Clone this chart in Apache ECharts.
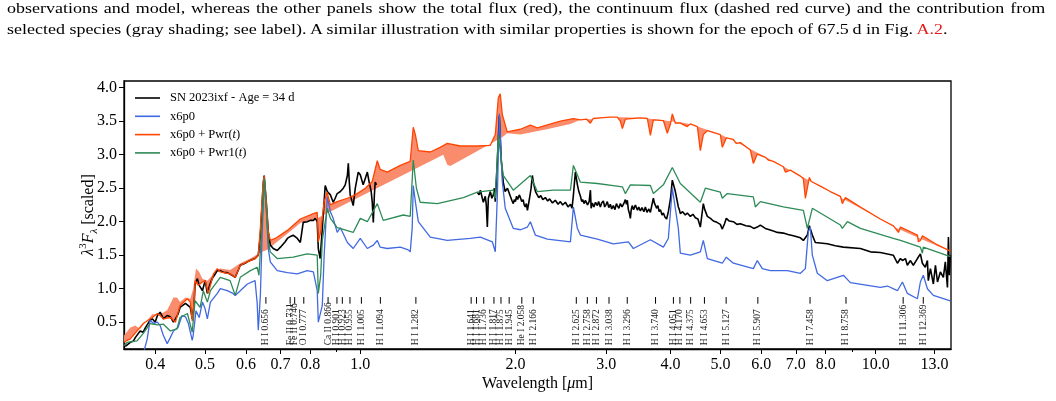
<!DOCTYPE html>
<html>
<head>
<meta charset="utf-8">
<script src="https://cdn.jsdelivr.net/npm/echarts@6.0.0/dist/echarts.min.js"></script>
<style>
  body { margin: 0; background: #fff; }
  .wrap { position: relative; width: 1056px; height: 401px; overflow: hidden; }
  #main { position: absolute; left: 0; top: 0; width: 1056px; height: 401px; }
  .cap { position: absolute; left: 7px; font-family: "Liberation Serif", serif; font-size: 15.5px; line-height: 15.5px;
         white-space: nowrap; color: #000; transform: scaleX(1.16); transform-origin: 0 0; }
  .cap1 { top: 0px; width: 895px; text-align: justify; text-align-last: justify; white-space: normal; }
  .cap2 { top: 21px; }
  .cap a { color: #e41a1c; text-decoration: none; }
</style>
</head>
<body>
<div class="wrap">
  <div id="main"></div>
  <div class="cap cap1">observations and model, whereas the other panels show the total flux (red), the continuum flux (dashed red curve) and the contribution from</div>
  <div class="cap cap2">selected species (gray shading; see label). A similar illustration with similar properties is shown for the epoch of 67.5&#8201;d in Fig. <a>A.2</a>.</div>
</div>
<script>
// spectra: [wavelength in micron, lambda^3 F_lambda scaled]
const obsFlux = [
  [0.350,0.14],[0.353,0.15],[0.358,0.20],[0.363,0.22],[0.366,0.27],[0.369,0.25],[0.374,0.37],[0.379,0.35],
  [0.383,0.42],[0.386,0.40],[0.391,0.53],[0.395,0.55],[0.400,0.50],[0.404,0.60],[0.409,0.65],[0.415,0.55],
  [0.418,0.53],[0.422,0.60],[0.428,0.58],[0.434,0.50],[0.438,0.55],[0.443,0.62],[0.447,0.72],[0.451,0.70],
  [0.458,0.78],[0.462,0.80],[0.468,0.72],[0.472,0.55],[0.476,0.75],[0.478,1.07],[0.483,1.15],[0.487,1.05],
  [0.494,0.97],[0.500,1.12],[0.505,0.93],[0.510,1.05],[0.516,1.15],[0.523,1.22],[0.528,1.27],[0.535,1.27],
  [0.545,1.24],[0.552,1.24],[0.564,1.20],[0.572,1.17],[0.580,1.28],[0.585,1.35],[0.598,1.38],[0.604,1.40],
  [0.615,1.43],[0.625,1.45],[0.634,1.50],[0.640,1.80],[0.648,2.55],[0.651,2.69],[0.657,2.30],[0.663,1.85],
  [0.669,1.65],[0.678,1.60],[0.690,1.57],[0.700,1.62],[0.715,1.70],[0.722,1.75],[0.732,1.78],[0.741,1.80],
  [0.755,1.75],[0.765,1.69],[0.775,1.99],[0.789,2.00],[0.800,2.02],[0.811,2.02],[0.818,2.05],[0.825,2.00],
  [0.829,1.60],[0.836,1.45],[0.844,1.90],[0.855,2.54],[0.863,2.45],[0.875,2.40],[0.886,2.29],[0.894,2.35],
  [0.902,2.42],[0.915,2.45],[0.927,2.50],[0.935,2.55],[0.944,2.69],[0.948,2.87],[0.952,2.60],[0.956,2.40],
  [0.969,2.24],[0.978,2.50],[0.991,2.74],[1.000,2.70],[1.013,2.55],[1.023,2.65],[1.032,2.74],[1.040,2.60],
  [1.050,2.45],[1.055,2.29],[1.060,1.99],[1.065,2.40],[1.069,2.59],[1.075,2.55],[1.300,null],
  [1.687,2.44],[1.700,2.40],[1.710,2.47],[1.725,2.35],[1.733,2.29],[1.748,2.38],[1.756,2.25],[1.764,1.92],
  [1.772,2.35],[1.788,2.45],[1.800,2.35],[1.812,2.40],[1.820,2.50],[1.828,2.30],[1.845,2.90],[1.861,3.58],
  [1.878,2.90],[1.894,2.59],[1.910,2.45],[1.930,2.50],[1.955,2.38],[1.968,2.32],[1.981,2.27],[1.990,2.33],
  [2.000,2.30],[2.010,2.38],[2.020,2.33],[2.035,2.40],[2.045,2.36],[2.057,2.30],[2.070,2.33],[2.080,2.25],
  [2.090,2.22],[2.100,2.27],[2.110,2.17],[2.120,2.26],[2.130,2.35],[2.145,2.50],[2.157,2.69],[2.168,2.58],
  [2.180,2.50],[2.190,2.44],[2.205,2.42],[2.220,2.36],[2.240,2.39],[2.260,2.33],[2.286,2.36],[2.310,2.31],
  [2.330,2.34],[2.360,2.28],[2.390,2.32],[2.420,2.26],[2.445,2.30],[2.470,2.25],[2.500,2.29],[2.530,2.22],
  [2.557,2.26],[2.575,2.20],[2.590,2.38],[2.614,2.74],[2.638,2.55],[2.655,2.45],[2.674,2.38],[2.690,2.30],
  [2.700,2.33],[2.720,2.27],[2.734,2.32],[2.760,2.25],[2.780,2.30],[2.796,2.47],[2.805,2.20],[2.820,2.28],
  [2.840,2.22],[2.860,2.29],[2.884,2.24],[2.900,2.30],[2.923,2.22],[2.940,2.28],[2.962,2.31],[2.980,2.22],
  [3.000,2.26],[3.015,2.30],[3.035,2.21],[3.056,2.26],[3.075,2.19],[3.097,2.24],[3.120,2.18],[3.140,2.27],
  [3.153,2.24],[3.175,2.20],[3.196,2.27],[3.220,2.22],[3.250,2.28],[3.268,2.33],[3.285,2.26],[3.297,2.32],
  [3.312,2.18],[3.330,2.12],[3.342,2.05],[3.355,2.18],[3.370,2.24],[3.390,2.18],[3.418,2.25],[3.450,2.17],
  [3.470,2.22],[3.495,2.16],[3.520,2.21],[3.550,2.15],[3.574,2.22],[3.600,2.14],[3.630,2.19],[3.655,2.14],
  [3.680,2.25],[3.704,2.35],[3.720,2.28],[3.737,2.30],[3.760,2.20],[3.780,2.24],[3.800,2.15],[3.822,2.18],
  [3.850,2.10],[3.873,2.13],[3.900,2.07],[3.930,2.04],[3.960,2.15],[4.000,2.35],[4.031,2.62],[4.086,2.45],
  [4.110,2.35],[4.141,2.22],[4.160,2.18],[4.178,2.12],[4.220,2.15],[4.272,2.10],[4.310,2.13],[4.369,2.08],
  [4.420,2.11],[4.468,2.06],[4.520,2.04],[4.569,1.92],[4.600,2.10],[4.630,2.27],[4.660,2.18],[4.714,2.08],
  [4.780,2.05],[4.842,2.01],[4.920,1.99],[4.995,1.96],[5.040,1.89],[5.090,1.97],[5.131,2.05],[5.200,2.01],
  [5.295,2.00],[5.380,1.96],[5.463,1.97],[5.600,1.94],[5.712,1.93],[5.800,1.90],[5.893,1.92],[5.973,1.95],
  [6.108,1.90],[6.220,1.88],[6.330,1.86],[6.445,1.84],[6.620,1.83],[6.760,1.81],[6.922,1.79],[7.143,1.76],
  [7.239,1.72],[7.369,1.80],[7.435,1.94],[7.535,1.80],[7.636,1.69],[8.056,1.67],[8.349,1.64],[8.656,1.62],
  [9.340,1.60],[9.766,1.55],[10.21,1.54],[10.82,1.50],[11.02,1.38],[11.17,1.45],[11.27,1.42],[11.42,1.45],
  [11.52,1.35],[11.68,1.42],[11.83,1.35],[12.05,1.45],[12.21,1.52],[12.32,1.38],[12.48,1.32],[12.60,1.42],
  [12.65,1.12],[12.77,1.30],[12.94,1.07],[13.06,1.35],[13.18,1.10],[13.35,1.25],[13.53,1.17],[13.65,1.40],
  [13.78,1.02],[13.84,1.77],[13.90,1.20],[13.96,1.50]
];

const x6p0 = [
  [0.350,0.00],[0.380,0.05],[0.386,0.25],[0.391,0.53],[0.397,0.48],[0.404,0.50],[0.409,0.45],[0.415,0.30],
  [0.422,0.18],[0.428,0.27],[0.434,0.37],[0.443,0.42],[0.451,0.60],[0.458,0.58],[0.464,0.48],[0.472,0.23],
  [0.474,0.30],[0.480,0.67],[0.487,0.57],[0.494,0.80],[0.500,0.70],[0.505,0.55],[0.512,0.80],[0.528,0.93],
  [0.535,1.00],[0.552,0.97],[0.566,0.93],[0.572,0.90],[0.585,0.97],[0.604,1.07],[0.625,1.12],[0.631,0.78],
  [0.634,0.38],[0.640,0.90],[0.645,1.80],[0.651,2.62],[0.657,2.20],[0.663,1.60],[0.669,1.40],[0.690,1.27],
  [0.722,1.24],[0.755,1.22],[0.789,1.27],[0.811,1.25],[0.825,0.97],[0.829,0.50],[0.844,0.75],[0.851,1.50],
  [0.863,2.37],[0.875,2.15],[0.886,2.05],[0.902,1.84],[0.915,1.91],[0.944,1.69],[0.969,1.60],[1.000,1.75],
  [1.032,1.60],[1.060,1.65],[1.079,1.72],[1.093,1.62],[1.128,1.60],[1.196,1.62],[1.239,1.58],[1.250,1.55],
  [1.261,1.90],[1.267,2.54],[1.279,2.30],[1.296,2.00],[1.367,1.77],[1.475,1.72],[1.635,1.75],[1.710,1.77],
  [1.804,1.70],[1.828,1.55],[1.845,2.40],[1.861,3.61],[1.886,2.60],[1.911,2.20],[1.981,1.90],[2.045,1.88],
  [2.110,1.92],[2.138,2.00],[2.186,1.80],[2.307,1.74],[2.557,1.70],[2.591,2.22],[2.638,1.90],[2.674,1.80],
  [2.884,1.74],[3.097,1.67],[3.312,1.70],[3.387,1.60],[3.655,1.73],[3.873,1.62],[3.960,1.75],[4.031,2.50],
  [4.086,2.20],[4.141,1.90],[4.178,1.53],[4.369,1.50],[4.569,1.55],[4.630,1.72],[4.714,1.45],[5.040,1.38],
  [5.131,1.47],[5.295,1.38],[5.789,1.30],[5.893,1.42],[6.027,1.30],[6.246,1.27],[6.740,1.27],[7.143,1.23],
  [7.304,1.30],[7.402,1.85],[7.467,1.92],[7.535,1.50],[7.705,1.23],[8.056,1.12],[8.656,1.20],[8.931,1.09],
  [10.21,1.02],[10.54,1.04],[11.02,0.97],[11.27,1.10],[11.52,0.93],[12.05,0.85],[12.21,1.10],[12.37,1.20],
  [12.60,1.00],[12.94,0.90],[13.96,0.82]
];

const x6p0Pwr = [
  [0.348,0.20],[0.353,0.23],[0.358,0.25],[0.369,0.37],[0.379,0.48],[0.395,0.57],[0.404,0.63],[0.409,0.60],
  [0.415,0.55],[0.428,0.57],[0.438,0.50],[0.447,0.75],[0.462,0.85],[0.468,0.80],[0.472,0.52],[0.476,0.80],
  [0.478,1.12],[0.485,1.05],[0.494,1.10],[0.500,1.12],[0.507,0.93],[0.519,1.22],[0.528,1.30],[0.535,1.25],
  [0.559,1.22],[0.572,1.17],[0.585,1.35],[0.604,1.40],[0.625,1.45],[0.634,1.50],[0.640,1.90],[0.648,2.60],
  [0.651,2.68],[0.657,2.30],[0.663,1.85],[0.669,1.72],[0.684,1.75],[0.722,1.87],[0.765,2.04],[0.811,2.12],
  [0.825,2.14],[0.829,1.70],[0.838,1.85],[0.851,2.30],[0.862,2.44],[0.875,2.25],[0.902,2.30],[0.944,2.35],
  [0.978,2.40],[1.023,2.50],[1.055,2.60],[1.079,2.91],[1.093,2.78],[1.128,2.74],[1.196,2.84],[1.250,2.90],
  [1.267,3.41],[1.279,3.30],[1.296,3.06],[1.367,3.04],[1.429,3.11],[1.475,3.17],[1.563,3.13],[1.687,3.13],
  [1.788,3.14],[1.828,3.30],[1.853,3.85],[1.869,3.91],[1.886,3.60],[1.928,3.34],[2.045,3.38],[2.138,3.44],
  [2.205,3.40],[2.445,3.50],[2.591,3.54],[2.674,3.52],[2.750,3.53],[2.796,3.47],[2.830,3.54],[2.923,3.55],
  [3.056,3.56],[3.153,3.56],[3.196,3.50],[3.225,3.39],[3.268,3.53],[3.500,3.55],[3.606,3.54],[3.655,3.29],
  [3.704,3.52],[3.873,3.51],[3.942,3.32],[3.995,3.45],[4.031,3.61],[4.086,3.47],[4.178,3.47],[4.310,3.42],
  [4.369,3.46],[4.508,3.42],[4.569,3.06],[4.630,3.30],[4.714,3.36],[4.995,3.30],[5.040,3.11],[5.131,3.25],
  [5.295,3.23],[5.360,3.17],[5.463,3.18],[5.712,3.07],[5.789,2.87],[5.893,3.01],[6.108,2.96],[6.190,2.92],
  [6.330,2.90],[6.620,2.82],[6.679,2.74],[6.831,2.77],[7.143,2.68],[7.239,2.64],[7.304,2.35],[7.369,2.50],
  [7.435,2.66],[7.500,2.60],[7.808,2.53],[8.165,2.45],[8.541,2.38],[8.617,2.27],[8.734,2.36],[9.340,2.22],
  [10.21,2.04],[10.82,1.94],[11.07,1.84],[11.17,1.92],[11.68,1.85],[12.05,1.80],[12.10,1.70],[12.21,1.72],
  [12.32,1.79],[13.06,1.67],[13.96,1.56]
];

// other edge of the shaded contribution
const contFlux = [
  [0.348,0.30],[0.358,0.42],[0.366,0.45],[0.374,0.40],[0.383,0.50],[0.395,0.62],[0.409,0.62],[0.422,0.68],
  [0.434,0.87],[0.441,0.87],[0.447,0.80],[0.458,0.87],[0.468,0.85],[0.474,1.00],[0.480,1.30],[0.487,1.25],
  [0.494,1.15],[0.505,1.12],[0.519,1.22],[0.535,1.30],[0.559,1.28],[0.585,1.38],[0.612,1.45],[0.634,1.52],
  [0.645,1.55],[0.660,1.58],[0.690,1.70],[0.722,1.82],[0.765,1.98],[0.825,2.05],[1.449,3.00],[1.475,2.85],
  [1.495,2.83],[1.845,3.22],[1.886,3.26],[1.928,3.32],[2.045,3.30],[2.300,3.38],[2.557,3.46],[2.674,3.52],
  [2.800,3.53],[3.000,3.56],[3.200,3.56],[3.500,3.55],[3.800,3.52],[4.000,3.50],[4.200,3.48],[4.400,3.45],
  [4.600,3.40],[5.000,3.30],[5.500,3.15],[6.000,3.00],[6.900,2.75],[8.050,2.47],[9.340,2.20],[10.80,1.93],
  [12.60,1.70],[13.96,1.56]
];

const x6p0Pwr1 = [
  [0.348,0.15],[0.353,0.20],[0.369,0.22],[0.379,0.33],[0.391,0.48],[0.404,0.46],[0.415,0.47],[0.428,0.37],
  [0.441,0.40],[0.447,0.57],[0.462,0.63],[0.472,0.35],[0.478,0.82],[0.489,0.72],[0.496,0.97],[0.505,0.80],
  [0.512,0.97],[0.535,1.17],[0.559,1.12],[0.572,0.90],[0.585,1.17],[0.612,1.27],[0.631,1.32],[0.636,1.20],
  [0.645,2.00],[0.651,2.65],[0.657,2.20],[0.663,1.70],[0.669,1.55],[0.690,1.45],[0.741,1.47],[0.789,1.52],
  [0.825,1.50],[0.829,0.93],[0.838,1.20],[0.844,1.72],[0.863,2.20],[0.875,2.05],[0.902,1.91],[0.969,1.84],
  [1.000,2.05],[1.032,2.00],[1.079,2.27],[1.108,2.02],[1.212,2.10],[1.250,2.08],[1.267,2.92],[1.285,2.50],
  [1.307,2.29],[1.411,2.27],[1.585,2.36],[1.687,2.44],[1.812,2.47],[1.828,2.35],[1.853,3.29],[1.894,2.69],
  [1.981,2.47],[2.138,2.69],[2.205,2.45],[2.369,2.47],[2.557,2.47],[2.591,2.84],[2.674,2.59],[2.884,2.57],
  [3.097,2.54],[3.225,2.52],[3.268,2.42],[3.342,2.55],[3.655,2.54],[3.704,2.42],[3.873,2.55],[4.031,2.81],
  [4.178,2.57],[4.569,2.29],[4.672,2.50],[4.995,2.44],[5.040,2.35],[5.154,2.42],[5.789,2.37],[5.841,2.22],
  [5.973,2.30],[6.620,2.22],[7.239,2.17],[7.369,1.90],[7.535,2.20],[8.541,1.95],[8.617,1.90],[8.812,2.00],
  [9.340,1.90],[10.82,1.75],[11.17,1.72],[12.21,1.62],[12.32,1.53],[12.37,1.62],[13.96,1.48]
];

const lineLam = [0.656, 0.731, 0.746, 0.777, 0.866, 0.901, 0.923, 0.955, 1.005, 1.094, 1.282,
  1.641, 1.681, 1.736, 1.817, 1.875, 1.945, 2.058, 2.166, 2.625, 2.758, 2.872, 3.038, 3.296,
  3.740, 4.051, 4.170, 4.375, 4.653, 5.127, 5.907, 7.458, 8.758, 11.306, 12.369];
const lineNames = ['H I 0.656', 'Fe II 0.731', 'Fe II 0.746', 'O I 0.777', 'Ca II 0.866', 'H I 0.901',
  'H I 0.923', 'H I 0.955', 'H I 1.005', 'H I 1.094', 'H I 1.282', 'H I 1.641', 'H I 1.681', 'H I 1.736',
  'H I 1.817', 'H I 1.875', 'H I 1.945', 'He I 2.058', 'H I 2.166', 'H I 2.625', 'H I 2.758', 'H I 2.872',
  'H I 3.038', 'H I 3.296', 'H I 3.740', 'H I 4.051', 'H I 4.170', 'H I 4.375', 'H I 4.653', 'H I 5.127',
  'H I 5.907', 'H I 7.458', 'H I 8.758', 'H I 11.306', 'H I 12.369'];

const xTicks = [0.4, 0.5, 0.6, 0.7, 0.8, 1.0, 2.0, 3.0, 4.0, 5.0, 6.0, 7.0, 8.0, 10.0, 13.0];
const xMinor = [0.9, 9.0];
const yTicks = [0.5, 1.0, 1.5, 2.0, 2.5, 3.0, 3.5, 4.0];

const serif = '"Liberation Serif", "DejaVu Serif", serif';
const chart = echarts.init(document.getElementById('main'));

function fillItem(params, api) {
  const pts = x6p0Pwr.map(p => api.coord(p))
    .concat(contFlux.slice().reverse().map(p => api.coord(p)));
  return { type: 'polygon', shape: { points: pts }, style: { fill: '#fa8c6e' } };
}

function lineIdItem(params, api) {
  const lam = api.value(0);
  const a = api.coord([lam, 0.875]);
  const b = api.coord([lam, 0.776]);
  const t = api.coord([lam, 0.155]);
  return {
    type: 'group',
    children: [
      { type: 'line', shape: { x1: a[0], y1: a[1], x2: b[0], y2: b[1] }, style: { stroke: '#000', lineWidth: 1 } },
      { type: 'text', x: t[0], y: t[1], rotation: Math.PI / 2,
        style: { text: lineNames[params.dataIndex], fill: '#222', font: '9.5px ' + serif, align: 'left', verticalAlign: 'middle' } }
    ]
  };
}

chart.setOption({
  animation: false,
  grid: { left: 124, right: 105, top: 81, bottom: 52, show: true, borderColor: '#000', borderWidth: 1.3 },
  legend: {
    data: ['SN 2023ixf - Age = 34 d', 'x6p0', 'x6p0 + Pwr(t)', 'x6p0 + Pwr1(t)'],
    orient: 'vertical', left: 135, top: 91, padding: 0,
    icon: 'rect', itemWidth: 25, itemHeight: 1.6, itemGap: 4.3,
    formatter: n => n.replace('(t)', '({it|t})'),
    textStyle: { fontFamily: serif, fontSize: 12.5, color: '#000', lineHeight: 14, padding: [0, 0, 0, 5],
      rich: { it: { fontFamily: serif, fontSize: 12.5, fontStyle: 'italic', lineHeight: 14 } } }
  },
  xAxis: [{
    type: 'log', min: 0.348, max: 14.0,
    name: 'Wavelength [{it|μ}m]', nameLocation: 'middle', nameGap: 27, nameMoveOverlap: false,
    nameTextStyle: { fontFamily: serif, fontSize: 16, color: '#000',
      rich: { it: { fontFamily: serif, fontSize: 16, fontStyle: 'italic' } } },
    axisLine: { lineStyle: { color: '#000', width: 1.3 } },
    axisTick: { customValues: xTicks, length: 5, lineStyle: { color: '#000' } },
    axisLabel: { customValues: xTicks, formatter: v => v.toFixed(1), fontFamily: serif, fontSize: 16, color: '#000', margin: 8 },
    splitLine: { show: false }
  }, {
    type: 'log', min: 0.348, max: 14.0, position: 'bottom', offset: 0, gridIndex: 0,
    axisLine: { show: false },
    axisTick: { customValues: xMinor, length: 3, lineStyle: { color: '#000' } },
    axisLabel: { customValues: xMinor, formatter: () => '' },
    splitLine: { show: false }
  }],
  yAxis: {
    type: 'value', min: 0.1, max: 4.1,
    name: '{mi|λ}{sup|3}{mi|F}{sub|λ}{m| [scaled]}', nameLocation: 'middle', nameGap: 24, nameMoveOverlap: false,
    nameTextStyle: { color: '#000',
      rich: {
        m: { fontFamily: serif, fontSize: 16, lineHeight: 22 },
        mi: { fontFamily: serif, fontSize: 16, fontStyle: 'italic', lineHeight: 22 },
        sup: { fontFamily: serif, fontSize: 11, verticalAlign: 'top' },
        sub: { fontFamily: serif, fontSize: 11, fontStyle: 'italic', verticalAlign: 'bottom' }
      } },
    axisLine: { lineStyle: { color: '#000', width: 1.3 } },
    axisTick: { customValues: yTicks, length: 5, lineStyle: { color: '#000' } },
    axisLabel: { customValues: yTicks, formatter: v => v.toFixed(1), fontFamily: serif, fontSize: 16, color: '#000', margin: 7 },
    splitLine: { show: false }
  },
  series: [
    { type: 'custom', name: 'fill', renderItem: fillItem, data: [[1, 1]], clip: true, silent: true, z: 1 },
    { type: 'line', name: 'SN 2023ixf - Age = 34 d', data: obsFlux, symbol: 'none', connectNulls: false,
      lineStyle: { color: '#000', width: 1.6 }, itemStyle: { color: '#000' }, z: 2 },
    { type: 'line', name: 'x6p0', data: x6p0, symbol: 'none',
      lineStyle: { color: '#4169e1', width: 1.3 }, itemStyle: { color: '#4169e1' }, z: 3 },
    { type: 'line', name: 'x6p0 + Pwr(t)', data: x6p0Pwr, symbol: 'none',
      lineStyle: { color: '#ff4500', width: 1.3 }, itemStyle: { color: '#ff4500' }, z: 4 },
    { type: 'line', name: 'x6p0 + Pwr1(t)', data: x6p0Pwr1, symbol: 'none',
      lineStyle: { color: '#2e8b57', width: 1.3 }, itemStyle: { color: '#2e8b57' }, z: 5 },
    { type: 'custom', name: 'lines', renderItem: lineIdItem, data: lineLam.map(l => [l, 0.8]), clip: false, silent: true, z: 6 }
  ]
});
</script>
</body>
</html>
